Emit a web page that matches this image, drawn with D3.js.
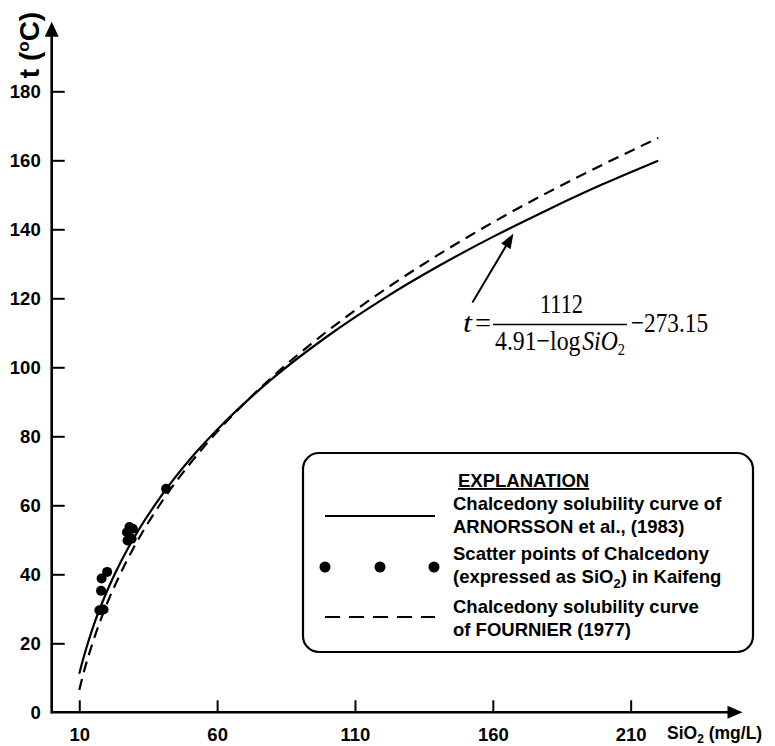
<!DOCTYPE html>
<html>
<head>
<meta charset="utf-8">
<script src="https://cdn.jsdelivr.net/npm/d3@7"></script>
<style>
  body { margin: 0; background: #fff; }
  svg { display: block; }
  .tick text { font-family: "Liberation Sans", Arial, sans-serif; font-weight: bold; font-size: 18.5px; }
</style>
</head>
<body>
<div id="chart-area"></div>
<script>
// SiO2 (mg/L) sample points along both curves
var sio2Grid = [10, 12, 15, 20, 25, 30, 40, 50, 60, 80, 100, 120, 140, 160, 180, 200, 220];
// temperatures (Arnorsson et al., 1983)
var arnorsson = [11.2, 17.1, 24.7, 35.0, 43.5, 50.8, 63.0, 73.2, 81.9, 96.7, 109.0, 119.7, 129.2, 137.8, 145.7, 153.1, 159.9];
// temperatures (Fournier, 1977)
var fournier = [6.5, 12.7, 20.5, 31.4, 40.3, 48.1, 61.1, 71.9, 81.3, 97.2, 110.5, 122.1, 132.5, 142.0, 150.7, 158.8, 166.5];

// Kaifeng scatter points
var pointSio2 = [41.5, 28.2, 29.4, 27.3, 27.5, 29.0, 20.1, 18.1, 17.9, 17.3, 18.8];
var pointTemp = [64.8, 53.7, 53.2, 52.2, 49.8, 50.3, 40.7, 38.8, 35.2, 29.6, 29.8];

var xTicks = [10, 60, 110, 160, 210];
var yTicks = [0, 20, 40, 60, 80, 100, 120, 140, 160, 180];

var legendItems = [
  { type: "solid", lines: ["Chalcedony solubility curve of", "ARNORSSON et al., (1983)"] },
  { type: "dots", lines: ["Scatter points of Chalcedony", "(expressed as SiO|2|) in Kaifeng"] },
  { type: "dash", lines: ["Chalcedony solubility curve", "of FOURNIER (1977)"] }
];

var width = 775, height = 746;
var fontSans = '"Liberation Sans", Arial, sans-serif';

var svg = d3.select("#chart-area").append("svg")
  .attr("width", width)
  .attr("height", height);

var x = d3.scaleLinear().domain([0, 250]).range([51.7, 51.7 + 250 * 2.757]);
var y = d3.scaleLinear().domain([0, 200]).range([712.3, 712.3 - 200 * 3.45]);

// axes
var xAxis = d3.axisBottom(x)
  .tickValues(xTicks)
  .tickSizeInner(-12)
  .tickSizeOuter(0)
  .tickPadding(16);

var yAxis = d3.axisLeft(y)
  .tickValues(yTicks)
  .tickSizeInner(-13)
  .tickSizeOuter(0)
  .tickPadding(11);

svg.append("g")
  .attr("transform", "translate(0," + y(0) + ")")
  .call(xAxis)
  .call(g => g.select(".domain").remove())
  .call(g => g.selectAll(".tick line").attr("stroke", "#000").attr("stroke-width", 2))
  .call(g => g.selectAll(".tick text").attr("fill", "#000"));

svg.append("g")
  .attr("transform", "translate(" + x(0) + ",0)")
  .call(yAxis)
  .call(g => g.select(".domain").remove())
  .call(g => g.selectAll(".tick line").attr("stroke", "#000").attr("stroke-width", 2))
  .call(g => g.selectAll(".tick").filter(d => d == 0).select("line").remove())
  .call(g => g.selectAll(".tick text").attr("fill", "#000"));

// axis lines with arrow heads
var xEnd = 742.5, yEnd = 21.7;
svg.append("line")
  .attr("x1", x(0)).attr("y1", y(0))
  .attr("x2", xEnd - 12).attr("y2", y(0))
  .attr("stroke", "#000").attr("stroke-width", 2.6);
svg.append("path")
  .attr("d", "M" + xEnd + "," + y(0) + "L" + (xEnd - 15) + "," + (y(0) - 6.5) + "L" + (xEnd - 15) + "," + (y(0) + 6.5) + "Z")
  .attr("fill", "#000");

svg.append("line")
  .attr("x1", x(0)).attr("y1", y(0) + 1.3)
  .attr("x2", x(0)).attr("y2", yEnd + 12)
  .attr("stroke", "#000").attr("stroke-width", 2.6);
svg.append("path")
  .attr("d", "M" + x(0) + "," + yEnd + "L" + (x(0) - 7) + "," + (yEnd + 15) + "L" + (x(0) + 7) + "," + (yEnd + 15) + "Z")
  .attr("fill", "#000");

// axis titles
var xt = svg.append("text")
  .attr("x", 667).attr("y", 739)
  .attr("font-family", fontSans).attr("font-weight", "bold").attr("font-size", 17.5);
xt.append("tspan").text("SiO");
xt.append("tspan").attr("font-size", 12).attr("dy", 3.5).text("2");
xt.append("tspan").attr("dy", -3.5).text(" (mg/L)");

var yt = svg.append("text")
  .attr("transform", "translate(39,45) rotate(-90)")
  .attr("text-anchor", "middle")
  .attr("font-family", fontSans).attr("font-weight", "bold").attr("font-size", 28);
yt.append("tspan").text("t (");
yt.append("tspan").attr("font-size", 17).attr("dy", -10).text("o");
yt.append("tspan").attr("dy", 10).text("C)");

// curves
var line = d3.line()
  .x((d, i) => x(sio2Grid[i]))
  .y(d => y(d))
  .curve(d3.curveMonotoneX);

svg.append("path")
  .attr("d", line(arnorsson))
  .attr("fill", "none")
  .attr("stroke", "#000")
  .attr("stroke-width", 2.2);

svg.append("path")
  .attr("d", line(fournier))
  .attr("fill", "none")
  .attr("stroke", "#000")
  .attr("stroke-width", 2.2)
  .attr("stroke-dasharray", "11,7");

// scatter points
svg.selectAll(".pt")
  .data(pointSio2)
  .enter()
  .append("circle")
  .attr("class", "pt")
  .attr("cx", d => x(d))
  .attr("cy", (d, i) => y(pointTemp[i]))
  .attr("r", 5)
  .attr("fill", "#000");

// arrow pointing at the curve
var tail = [x(152.6), y(118.8)], tip = [x(167.5), y(138.8)];
var ang = Math.atan2(tip[1] - tail[1], tip[0] - tail[0]);
var back = [tip[0] - 15 * Math.cos(ang), tip[1] - 15 * Math.sin(ang)];
svg.append("line")
  .attr("x1", tail[0]).attr("y1", tail[1])
  .attr("x2", back[0]).attr("y2", back[1])
  .attr("stroke", "#000").attr("stroke-width", 2);
svg.append("path")
  .attr("d", "M" + tip[0] + "," + tip[1] +
    "L" + (back[0] + 5.5 * Math.sin(ang)) + "," + (back[1] - 5.5 * Math.cos(ang)) +
    "L" + (back[0] - 5.5 * Math.sin(ang)) + "," + (back[1] + 5.5 * Math.cos(ang)) + "Z")
  .attr("fill", "#000");

// formula (the original type is narrow, so it is squeezed sideways)
var fontSerif = '"Liberation Serif", "Times New Roman", serif';
var fm = svg.append("g").attr("font-family", fontSerif).attr("font-size", 28).attr("fill", "#000");

function piece(txt, px, py, len, italic) {
  var t = fm.append("text").attr("x", px).attr("y", py)
    .attr("textLength", len).attr("lengthAdjust", "spacingAndGlyphs")
    .text(txt);
  if (italic) t.attr("font-style", "italic");
  return t;
}

piece("t", 463, 332, 9, true);
piece("=", 475, 332, 16);
fm.append("line").attr("x1", 493).attr("x2", 627).attr("y1", 324.5).attr("y2", 324.5)
  .attr("stroke", "#000").attr("stroke-width", 1.6);
piece("1112", 540, 313, 43);
var den = fm.append("g").attr("transform", "translate(495,350) scale(0.85,1)")
  .append("text").attr("x", 0).attr("y", 0);
den.append("tspan").text("4.91\u2212log");
den.append("tspan").attr("font-style", "italic").attr("dx", 2).text("SiO");
den.append("tspan").attr("font-size", 17).attr("dy", 5).text("2");
piece("\u2212273.15", 631, 332, 77);

// legend
var lg = svg.append("g");
lg.append("rect")
  .attr("x", 303).attr("y", 453)
  .attr("width", 450).attr("height", 199)
  .attr("rx", 16).attr("ry", 16)
  .attr("fill", "#fff").attr("stroke", "#000").attr("stroke-width", 2.2);

lg.append("text")
  .attr("x", 458).attr("y", 487)
  .attr("font-family", fontSans).attr("font-weight", "bold").attr("font-size", 18.5)
  .attr("text-decoration", "underline")
  .text("EXPLANATION");

var rowY = [510, 560, 613];
legendItems.forEach(function(item, k) {
  var ty = rowY[k];
  item.lines.forEach(function(s, j) {
    var t = lg.append("text")
      .attr("x", 453).attr("y", ty + j * 23)
      .attr("font-family", fontSans).attr("font-weight", "bold").attr("font-size", 18.5);
    var parts = s.split("|");
    if (parts.length == 1) {
      t.text(s);
    } else {
      t.append("tspan").text(parts[0]);
      t.append("tspan").attr("font-size", 13).attr("dy", 5).text(parts[1]);
      t.append("tspan").attr("dy", -5).text(parts[2]);
    }
  });
  var my = ty + 6;
  if (item.type == "solid") {
    lg.append("line").attr("x1", 325).attr("x2", 435).attr("y1", my).attr("y2", my)
      .attr("stroke", "#000").attr("stroke-width", 2);
  } else if (item.type == "dash") {
    lg.append("line").attr("x1", 325).attr("x2", 435).attr("y1", my - 2).attr("y2", my - 2)
      .attr("stroke", "#000").attr("stroke-width", 2).attr("stroke-dasharray", "15,9");
  } else {
    [325, 380, 434].forEach(function(cx) {
      lg.append("circle").attr("cx", cx).attr("cy", my + 1).attr("r", 5.5).attr("fill", "#000");
    });
  }
});
</script>
</body>
</html>
